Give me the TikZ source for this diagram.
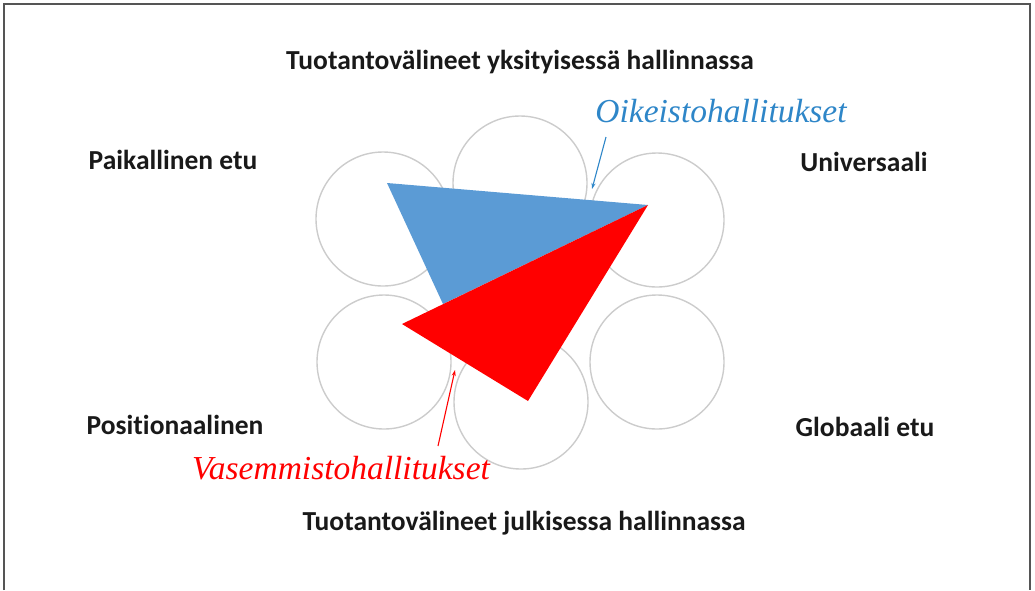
\documentclass[tikz,border=0pt]{standalone}
\usepackage{fontspec}
\setmainfont{Carlito}[Ligatures=NoCommon]
\newfontfamily\scriptfnt{Liberation Serif}
\usetikzlibrary{arrows.meta}
\definecolor{cgray}{HTML}{CCCCCC}
\definecolor{tblue}{HTML}{5B9BD5}
\definecolor{lblue}{HTML}{2E86C8}
\definecolor{fgray}{HTML}{555555}
\tikzset{
  ring/.style={circle,draw=cgray,line width=1.4pt,minimum size=134pt,inner sep=0pt},
  lab/.style={font=\bfseries\fontsize{27.5}{30}\selectfont,text=black!90,inner sep=0pt},
  scr/.style={font=\scriptfnt\itshape\fontsize{33.5}{38}\selectfont,inner sep=0pt},
  arr/.style={line width=1.1pt,-{Stealth[length=6pt,width=4pt]}}
}
\begin{document}
\begin{tikzpicture}[x=1pt,y=-1pt]
\useasboundingbox (0,0) rectangle (1035,590);
\draw[fgray,line width=2pt] (4,590) -- (4,4) -- (1030,4) -- (1030,590);
% circles
\node[ring] (c1) at (383,219) {};
\node[ring] (c2) at (520,183) {};
\node[ring] (c3) at (657,220) {};
\node[ring] (c4) at (384,362) {};
\node[ring] (c5) at (521,402) {};
\node[ring] (c6) at (657,362) {};
% triangles
\coordinate (b1) at (387,183);
\coordinate (b2) at (648,205);
\coordinate (b3) at (443,304);
\coordinate (r2) at (402,324);
\coordinate (r3) at (528,401);
\fill[tblue] (b1) -- (b2) -- (b3) -- cycle;
\fill[red] (b2) -- (r2) -- (r3) -- cycle;
% labels
\node[lab] (t1) at (520,62) {Tuotantovälineet yksityisessä hallinnassa};
\node[lab] (t2) at (173,160) {Paikallinen etu};
\node[lab] (t3) at (864,162) {Universaali};
\node[lab] (t4) at (175,425) {Positionaalinen};
\node[lab] (t5) at (865,427) {Globaali etu};
\node[lab] (t6) at (524,523) {Tuotantovälineet julkisessa hallinnassa};
\node[scr,text=lblue] (o) at (721,111) {Oikeistohallitukset};
\node[scr,text=red] (v) at (341,468) {Vasemmistohallitukset};
% arrows
\coordinate (oa) at (606,137);
\coordinate (ob) at (592,189);
\coordinate (va) at (438,446);
\coordinate (vb) at (455,370);
\draw[arr,lblue] (oa) -- (ob);
\draw[arr,red] (va) -- (vb);
\end{tikzpicture}
\end{document}
